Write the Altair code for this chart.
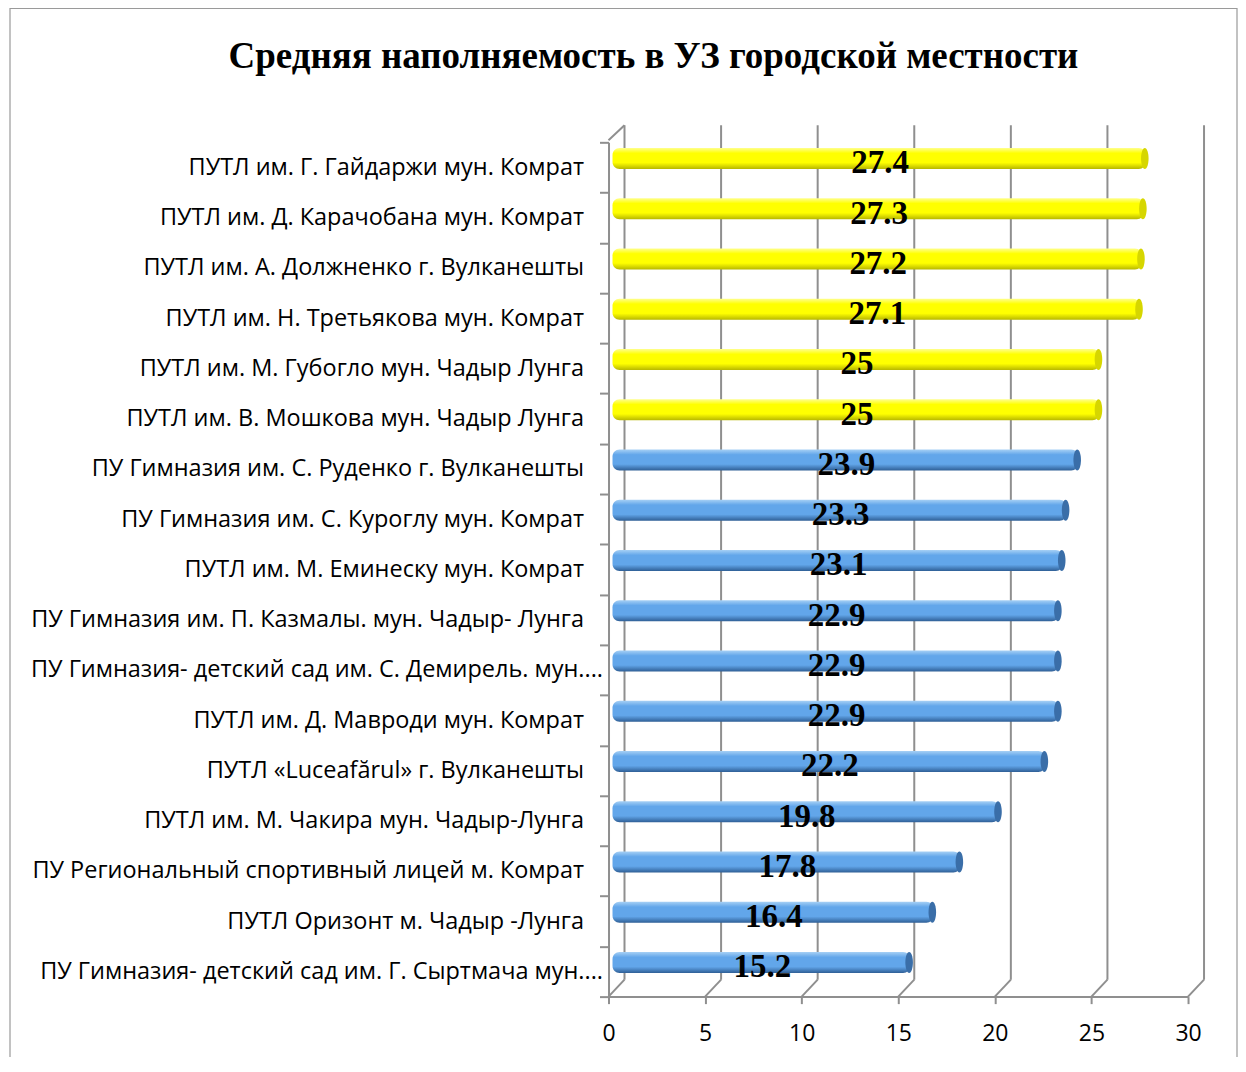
import altair as alt
import pandas as pd

categories = [
    "ПУТЛ им. Г. Гайдаржи мун. Комрат",
    "ПУТЛ им. Д. Карачобана мун. Комрат",
    "ПУТЛ им. А. Должненко г. Вулканешты",
    "ПУТЛ им. Н. Третьякова мун. Комрат",
    "ПУТЛ им. М. Губогло мун. Чадыр Лунга",
    "ПУТЛ им. В. Мошкова мун. Чадыр Лунга",
    "ПУ Гимназия им. С. Руденко г. Вулканешты",
    "ПУ Гимназия им. С. Куроглу мун. Комрат",
    "ПУТЛ им. М. Еминеску мун. Комрат",
    "ПУ Гимназия им. П. Казмалы. мун. Чадыр- Лунга",
    "ПУ Гимназия- детский сад им. С. Демирель. мун....",
    "ПУТЛ им. Д. Мавроди мун. Комрат",
    "ПУТЛ «Luceafărul» г. Вулканешты",
    "ПУТЛ им. М. Чакира мун. Чадыр-Лунга",
    "ПУ Региональный спортивный лицей м. Комрат ",
    "ПУТЛ Оризонт м. Чадыр -Лунга ",
    "ПУ Гимназия- детский сад им. Г. Сыртмача мун....",
]
values = [27.4, 27.3, 27.2, 27.1, 25, 25, 23.9, 23.3, 23.1, 22.9, 22.9, 22.9, 22.2, 19.8, 17.8, 16.4, 15.2]
groups = ["yellow"] * 6 + ["blue"] * 11
tick_values = [0, 5, 10, 15, 20, 25, 30]
title_text = "Средняя наполняемость в УЗ городской местности"

df = pd.DataFrame({"name": categories, "value": values, "group": groups})
ticks_df = pd.DataFrame({"t": tick_values})

W, H = 580, 855
GRID = "#8f8f8f"

xscale = alt.Scale(domain=[0, 30], nice=False, zero=True)
yscale = alt.Scale(domain=categories, paddingInner=0, paddingOuter=0)

x_axis = alt.Axis(
    values=tick_values, grid=False, domainColor=GRID, domainWidth=2, tickColor=GRID,
    tickWidth=2, tickSize=7, labelFontSize=23, labelFont="Open Sans", labelColor="black",
    labelPadding=19, title=None, labelFlush=False)
y_axis = alt.Axis(
    grid=False, domainColor=GRID, domainWidth=2, tickColor=GRID, tickWidth=2, tickSize=9,
    tickBand="extent", labelFontSize=23.5, labelFont="Open Sans", labelColor="black",
    labelPadding={"condition": {"test": "indexof(datum.label, 'мун....') >= 0", "value": -3},
                  "value": 16},
    labelLimit=700, title=None)

def X(field):
    return alt.X(field, scale=xscale, axis=x_axis)

def Y():
    return alt.Y("name:N", scale=yscale, sort=None, axis=y_axis)

frame = alt.Chart(pd.DataFrame({"a": [0]})).mark_rect(
    fill=None, stroke="#9a9a9a", strokeWidth=1.2).encode(
    x=alt.value(-599), x2=alt.value(629), y=alt.value(-134), y2=alt.value(1000))

back_grid = alt.Chart(ticks_df).mark_rule(color=GRID, strokeWidth=2, xOffset=16).encode(
    x=X("t:Q"), y=alt.value(-17), y2=alt.value(838))
floor_diag = alt.Chart(ticks_df).mark_rule(color=GRID, strokeWidth=2, xOffset=16, x2Offset=0).encode(
    x=X("t:Q"), x2="t:Q", y=alt.value(838), y2=alt.value(855))
top_diag = alt.Chart(ticks_df).transform_filter("datum.t == 0").mark_rule(
    color=GRID, strokeWidth=2, xOffset=16, x2Offset=0).encode(
    x=X("t:Q"), x2="t:Q", y=alt.value(-17), y2=alt.value(-2))

def grad(c_top, c_mid, c_bot):
    return alt.Gradient(gradient="linear", x1=0, x2=0, y1=0, y2=1, stops=[
        alt.GradientStop(color=c_top, offset=0),
        alt.GradientStop(color=c_mid, offset=0.25),
        alt.GradientStop(color=c_mid, offset=0.7),
        alt.GradientStop(color=c_bot, offset=1)])

BAR_H = 21
yellow_bars = alt.Chart(df).transform_filter("datum.group == 'yellow'").mark_bar(
    size=BAR_H, yOffset=-9, xOffset=8, x2Offset=4, cornerRadius=7,
    color=grad("#ffff90", "#ffff00", "#b8b800")).encode(
    x=X("value:Q"), x2=alt.datum(0), y=Y())
blue_bars = alt.Chart(df).transform_filter("datum.group == 'blue'").mark_bar(
    size=BAR_H, yOffset=-9, xOffset=8, x2Offset=4, cornerRadius=7,
    color=grad("#a6d0f5", "#62a6ea", "#2f5f96")).encode(
    x=X("value:Q"), x2=alt.datum(0), y=Y())

cap_path = "M0,-1 A0.36,1 0 1,1 0,1 A0.36,1 0 1,1 0,-1 Z"
caps = alt.Chart(df).mark_point(shape=cap_path, filled=True, size=BAR_H * BAR_H, yOffset=-9,
                                xOffset=7, opacity=1).encode(
    x=X("value:Q"), y=Y(),
    color=alt.Color("group:N", scale=alt.Scale(domain=["yellow", "blue"],
                                               range=["#d6d600", "#3a6ea8"]), legend=None))

labels = alt.Chart(df).transform_calculate(half="datum.value / 2").mark_text(
    font="Liberation Serif", fontWeight="bold", fontSize=33, color="black",
    baseline="middle", align="center", dx=7, dy=-4).encode(
    x=X("half:Q"), y=Y(), text=alt.Text("value:Q"))

title = alt.Chart(pd.DataFrame({"t": [title_text]})).mark_text(
    font="Liberation Serif", fontWeight="bold", fontSize=37, color="black",
    align="center", baseline="middle").encode(
    x=alt.value(45), y=alt.value(-85), text="t:N")

chart = alt.layer(frame, back_grid, floor_diag, top_diag, yellow_bars, blue_bars, caps,
                  labels, title).properties(
    width=W, height=H,
    autosize=alt.AutoSizeParams(type="none"),
    padding={"left": 601, "top": 134, "right": 50, "bottom": 60},
    background="white",
).configure_view(stroke=None)

chart.save("out.html", embed_options={"renderer": "svg", "actions": False})
